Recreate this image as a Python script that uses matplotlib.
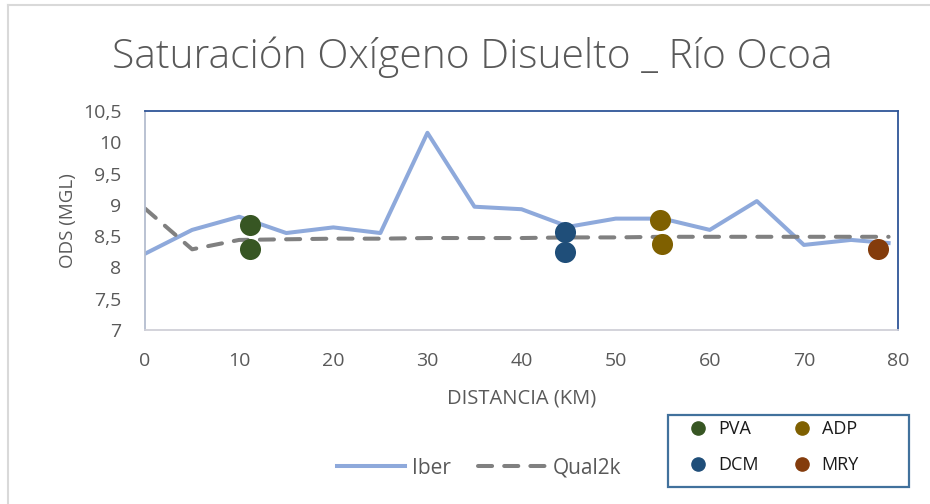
import matplotlib
matplotlib.use("Agg")
import matplotlib.pyplot as plt
from matplotlib.lines import Line2D
from matplotlib.patches import Rectangle

plt.rcParams["font.family"] = ["Open Sans", "DejaVu Sans"]

# datos
dist_iber = [0, 5, 10, 15, 20, 25, 30, 35, 40, 45, 50, 55, 60, 65, 70, 75, 79]
ods_iber = [8.22, 8.60, 8.81, 8.55, 8.64, 8.55, 10.15, 8.97, 8.93, 8.65, 8.78,
            8.78, 8.60, 9.06, 8.36, 8.44, 8.39]

dist_q2k = [0, 5, 10, 15, 20, 25, 30, 35, 40, 45, 50, 55, 60, 65, 70, 75, 79]
ods_q2k = [8.94, 8.29, 8.44, 8.45, 8.46, 8.46, 8.47, 8.47, 8.47, 8.48, 8.48,
           8.49, 8.49, 8.49, 8.49, 8.49, 8.49]

estaciones = ["PVA", "DCM", "ADP", "MRY"]
est_x = [[11.2, 11.2], [44.6, 44.6], [54.7, 54.9], [77.9]]
est_y = [[8.68, 8.29], [8.57, 8.24], [8.76, 8.37], [8.29]]
est_colores = ["#375623", "#1F4E79", "#7F6000", "#843C0C"]

yticks = [7, 7.5, 8, 8.5, 9, 9.5, 10, 10.5]
xticks = [0, 10, 20, 30, 40, 50, 60, 70, 80]

gris = "#595959"

fig = plt.figure(figsize=(9.3, 5.04), dpi=100)
ax = fig.add_axes([0.156, 0.345, 0.8096, 0.435])

l_iber, = ax.plot(dist_iber, ods_iber, color="#8EA9DB", lw=2.9, label="Iber")
l_q2k, = ax.plot(dist_q2k, ods_q2k, color="#808080", lw=2.9, label="Qual2k",
                 dashes=(3.5, 3), dash_capstyle="round")

handles = []
for nombre, xs, ys, c in zip(estaciones, est_x, est_y, est_colores):
    ax.scatter(xs, ys, s=230, color=c, zorder=5, linewidths=0)
    handles.append(Line2D([], [], ls="none", marker="o", ms=9.5, color=c,
                          label=nombre))

ax.set_xlim(0, 80)
ax.set_ylim(7, 10.5)
ax.set_yticks(yticks)
ax.set_yticklabels([str(v).replace(".", ",").replace(",0", "") for v in yticks])
ax.set_xticks(xticks)
ax.tick_params(length=0, labelsize=14, colors=gris)
ax.tick_params(axis="x", pad=16)
ax.tick_params(axis="y", pad=17)

ax.spines["left"].set_color("#B4BDCF")
ax.spines["bottom"].set_color("#D0D0D8")
ax.spines["top"].set_color("#2F5597")
ax.spines["right"].set_color("#2F5597")
for s in ax.spines.values():
    s.set_linewidth(1.3)

ax.set_xlabel("DISTANCIA (KM)", fontsize=14.5, color=gris)
ax.xaxis.set_label_coords(0.5, -0.265)
ax.set_ylabel("ODS (MGL)", fontsize=13.5, color=gris)
ax.yaxis.set_label_coords(-0.091, 0.5)

fig.text(0.508, 0.865, "Saturación Oxígeno Disuelto _ Río Ocoa", ha="center",
         va="baseline", fontsize=29.3, color=gris, fontweight="light")

leg1 = fig.legend(handles=[l_iber, l_q2k], loc="center",
                  bbox_to_anchor=(0.515, 0.071), ncol=2, frameon=False,
                  fontsize=15, handlelength=3.3, handletextpad=0.3,
                  columnspacing=1.3, labelcolor=gris)

# leyenda de estaciones con su recuadro
fig.add_artist(Rectangle((0.7183, 0.0337), 0.2591, 0.1429,
                         transform=fig.transFigure, fill=False,
                         ec="#41719C", lw=1.6))
leg2 = fig.legend(handles=handles, loc="upper left",
                  bbox_to_anchor=(689 / 930, 1 - 420 / 504), ncol=2,
                  frameon=False, fontsize=13, handlelength=1.0,
                  handletextpad=0.6, columnspacing=1.9, labelspacing=1.0,
                  borderpad=0, borderaxespad=0, labelcolor="#1a1a1a")

# borde del grafico
fig.add_artist(Line2D([0.009, 1.0], [0.991, 0.991], color="#D9D9D9", lw=1.5))
fig.add_artist(Line2D([0.009, 0.009], [0.0, 0.991], color="#D9D9D9", lw=1.5))

fig.savefig("out.png", dpi=100)
